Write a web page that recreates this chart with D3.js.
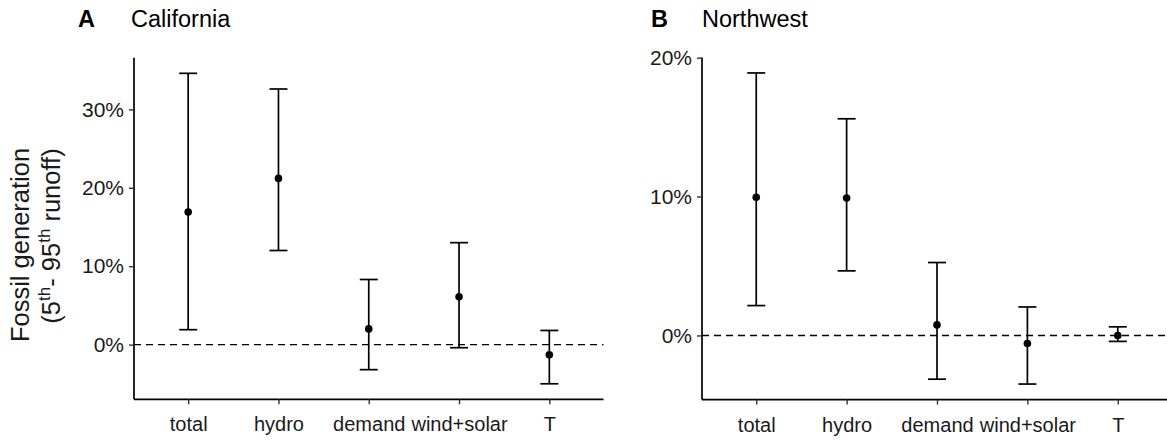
<!DOCTYPE html>
<html>
<head>
<meta charset="utf-8">
<script src="https://cdn.jsdelivr.net/npm/d3@7"></script>
<style>
  html, body { margin: 0; padding: 0; background: #fff; }
  svg { display: block; font-family: "Liberation Sans", Arial, sans-serif; }
</style>
</head>
<body>
<svg id="chart" width="1167" height="440"></svg>
<script>
// Drivers of fossil generation change between the 5th and 95th runoff years
const categories = ["total", "hydro", "demand", "wind+solar", "T"];

// California (percent)
const caMid  = [16.9, 21.2, 2.0, 6.1, -1.3];
const caLow  = [1.9, 12.0, -3.2, -0.4, -5.0];
const caHigh = [34.6, 32.6, 8.3, 13.0, 1.8];
const caTicks = [0, 10, 20, 30];

// Northwest (percent)
const nwMid  = [9.95, 9.9, 0.76, -0.58, 0.0];
const nwLow  = [2.15, 4.65, -3.15, -3.5, -0.43];
const nwHigh = [18.9, 15.6, 5.25, 2.05, 0.62];
const nwTicks = [0, 10, 20];

const svg = d3.select("#chart");
const FONT = "Liberation Sans, Arial, sans-serif";

function panel(opt) {
  const { left, right, top, bottom, mids, lows, highs, ticks, letter, name, letterX, nameX } = opt;

  const x = d3.scalePoint().domain(categories).range([left, right]).padding(0.6);
  const lo = d3.min(lows), hi = d3.max(highs);
  const pad = (hi - lo) * 0.05;
  const y = d3.scaleLinear().domain([lo - pad, hi + pad]).range([bottom, top]);

  const g = svg.append("g");

  // reference line at zero
  g.append("line")
    .attr("x1", left).attr("x2", right)
    .attr("y1", y(0)).attr("y2", y(0))
    .attr("stroke", "#000").attr("stroke-width", 1.4)
    .attr("stroke-dasharray", "7,5");

  // y axis
  const yAxis = d3.axisLeft(y).tickValues(ticks).tickFormat(d => d + "%")
    .tickSizeOuter(0).tickSize(5).tickPadding(5);
  const ya = g.append("g").attr("transform", `translate(${left},0)`).call(yAxis);
  ya.select(".domain").attr("stroke", "#000").attr("stroke-width", 1.7)
    .attr("d", `M0,${top}V${bottom}`);
  ya.selectAll(".tick line").attr("stroke", "#333").attr("stroke-width", 1.4);
  ya.selectAll(".tick text").attr("font-size", 21).attr("fill", "#1a1a1a")
    .attr("font-family", FONT);

  // x axis
  const xAxis = d3.axisBottom(x).tickSizeOuter(0).tickSize(5).tickPadding(13);
  const xa = g.append("g").attr("transform", `translate(0,${bottom})`).call(xAxis);
  xa.select(".domain").attr("stroke", "#000").attr("stroke-width", 1.7)
    .attr("d", `M${left},0H${right}`);
  xa.selectAll(".tick line").attr("stroke", "#333").attr("stroke-width", 1.4);
  xa.selectAll(".tick text").attr("font-size", 20).attr("fill", "#1a1a1a")
    .attr("font-family", FONT);

  // error bars: 5th–95th range with caps, dot at the central estimate
  const capHalf = 9;
  const bars = g.selectAll(".bar").data(categories).enter().append("g");
  bars.append("line")
    .attr("x1", d => x(d)).attr("x2", d => x(d))
    .attr("y1", (d, i) => y(lows[i])).attr("y2", (d, i) => y(highs[i]))
    .attr("stroke", "#000").attr("stroke-width", 1.7);
  bars.append("line")
    .attr("x1", d => x(d) - capHalf).attr("x2", d => x(d) + capHalf)
    .attr("y1", (d, i) => y(highs[i])).attr("y2", (d, i) => y(highs[i]))
    .attr("stroke", "#000").attr("stroke-width", 1.7);
  bars.append("line")
    .attr("x1", d => x(d) - capHalf).attr("x2", d => x(d) + capHalf)
    .attr("y1", (d, i) => y(lows[i])).attr("y2", (d, i) => y(lows[i]))
    .attr("stroke", "#000").attr("stroke-width", 1.7);
  bars.append("circle")
    .attr("cx", d => x(d)).attr("cy", (d, i) => y(mids[i]))
    .attr("r", 3.8).attr("fill", "#000");

  // panel title
  svg.append("text").attr("x", letterX).attr("y", 27)
    .attr("font-size", 23.5).attr("font-weight", "bold").attr("fill", "#000").text(letter);
  svg.append("text").attr("x", nameX).attr("y", 27)
    .attr("font-size", 23.5).attr("fill", "#000").text(name);
}

panel({ left: 134, right: 603.5, top: 57.8, bottom: 399.3,
  mids: caMid, lows: caLow, highs: caHigh, ticks: caTicks,
  letter: "A", name: "California", letterX: 78, nameX: 131 });

panel({ left: 702, right: 1172, top: 57.4, bottom: 399.6,
  mids: nwMid, lows: nwLow, highs: nwHigh, ticks: nwTicks,
  letter: "B", name: "Northwest", letterX: 651, nameX: 702 });

// shared y-axis title (two lines, rotated)
const yTitle = svg.append("g").attr("font-size", 25.5).attr("fill", "#1a1a1a");
yTitle.append("text")
  .attr("transform", "translate(29,245) rotate(-90)")
  .attr("text-anchor", "middle")
  .text("Fossil generation");
const line2 = yTitle.append("text")
  .attr("transform", "translate(60,236) rotate(-90)")
  .attr("text-anchor", "middle");
line2.append("tspan").text("(5");
line2.append("tspan").attr("font-size", 17).attr("dy", -10).text("th");
line2.append("tspan").attr("dy", 10).text("- 95");
line2.append("tspan").attr("font-size", 17).attr("dy", -10).text("th");
line2.append("tspan").attr("dy", 10).text(" runoff)");
</script>
</body>
</html>
